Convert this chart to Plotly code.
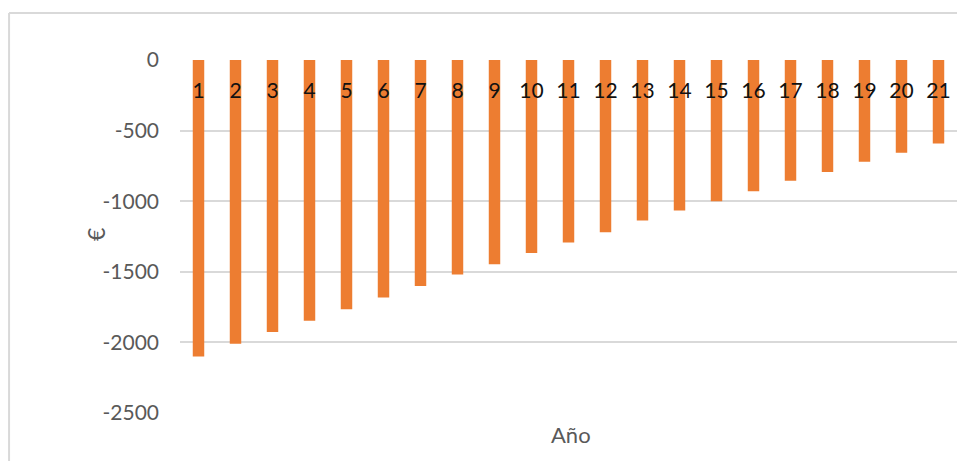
import plotly.graph_objects as go

# Año (categories) and cash-flow values in €
years = [str(i) for i in range(1, 22)]
values = [-2100, -2010, -1927, -1847, -1765, -1682, -1600, -1519, -1446, -1366,
          -1293, -1220, -1137, -1066, -1000, -929, -856, -793, -720, -656, -592]
y_ticks = [0, -500, -1000, -1500, -2000, -2500]
y_tick_text = ["0", "-500", "-1000", "-1500", "-2000", "-2500"]

orange = "#ED7D31"
grid = "#D9D9D9"
grey_text = "#595959"

fig = go.Figure()
fig.add_trace(go.Bar(x=years, y=values, marker=dict(color=orange, line=dict(width=0))))

fig.update_layout(
    width=957, height=461,
    margin=dict(l=180, r=0, t=60, b=48),
    paper_bgcolor="white", plot_bgcolor="white",
    font=dict(family="Lato", size=20, color=grey_text),
    showlegend=False,
    bargap=0.69,
    xaxis=dict(
        type="category",
        anchor="free", position=1, side="bottom",
        showgrid=False, showline=False, zeroline=False,
        ticks="", ticklabelstandoff=16,
        tickfont=dict(color="#111111", size=21),
    ),
    yaxis=dict(
        range=[-2500, 0],
        tickvals=y_ticks, ticktext=y_tick_text,
        showgrid=True, gridcolor=grid, gridwidth=1.5,
        zeroline=False, showline=False,
        ticks="", ticklabelstandoff=20,
        tickfont=dict(color=grey_text, size=21),
    ),
    annotations=[
        dict(text="Año", xref="paper", yref="paper", x=0.503, y=-0.105,
             showarrow=False, font=dict(size=22, color=grey_text)),
        dict(text="€", xref="paper", yref="paper", x=-0.1287, y=0.504,
             textangle=-90, showarrow=False, font=dict(size=23, color=grey_text)),
    ],
    shapes=[
        dict(type="line", xref="paper", yref="paper", x0=-0.22, x1=1.01, y0=1.133, y1=1.133,
             line=dict(color=grid, width=2)),
        dict(type="line", xref="paper", yref="paper", x0=-0.22, x1=-0.22, y0=1.133, y1=-0.2,
             line=dict(color=grid, width=2)),
    ],
)

# drop the browser's default body margin so the chart sits at the page origin
fig.write_html("out.html", config={"displayModeBar": False},
               post_script="document.body.style.margin='0';")
